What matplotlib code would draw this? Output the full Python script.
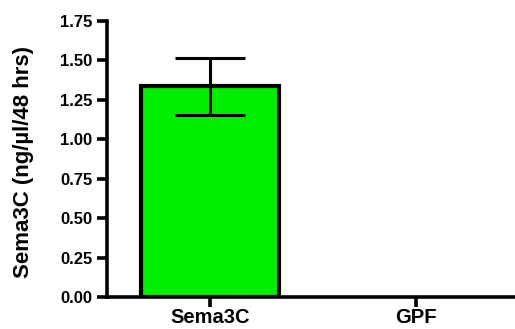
import matplotlib
matplotlib.use("Agg")
import matplotlib.pyplot as plt

categories = ["Sema3C", "GPF"]
values = [1.335, 0.0]
errors = [0.183, 0.0]
yticks = [0.00, 0.25, 0.50, 0.75, 1.00, 1.25, 1.50, 1.75]

plt.rcParams['font.family'] = ['Liberation Sans', 'DejaVu Sans']
plt.rcParams['font.weight'] = 'bold'

fig = plt.figure(figsize=(5.15, 3.29), dpi=100)
W, H = 515, 329
ax = fig.add_axes([107/W, 1 - 297/H, (519-107)/W, (297-21)/H])
x = list(range(len(categories)))
ax.bar(x[:1], values[:1], width=0.67, color="#00ee00", edgecolor="black", linewidth=3, zorder=2)
ax.errorbar(x[:1], values[:1], yerr=errors[:1], fmt="none", ecolor="black",
            elinewidth=2.2, capsize=25, capthick=2.2, zorder=3)
ax.set_xlim(-0.5, 1.5)
ax.set_ylim(0, 1.75)
ax.set_yticks(yticks)
ax.set_yticklabels([f"{t:.2f}" for t in yticks], fontsize=12, fontweight="bold")
ax.set_xticks(x)
ax.set_xticklabels(categories, fontsize=14.5, fontweight="bold")
for s in ["top", "right"]:
    ax.spines[s].set_visible(False)
for s in ["left", "bottom"]:
    ax.spines[s].set_linewidth(2.6)
ax.tick_params(axis="y", width=2.6, length=7.5, pad=3)
ax.tick_params(axis="x", width=2.6, length=7, pad=1)
ax.set_ylabel("Sema3C (ng/µl/48 hrs)", fontsize=16, fontweight="bold")
ax.yaxis.set_label_coords(-(107-34)/(519-107), (297-162)/(297-21))
fig.savefig("out.png", dpi=100)
